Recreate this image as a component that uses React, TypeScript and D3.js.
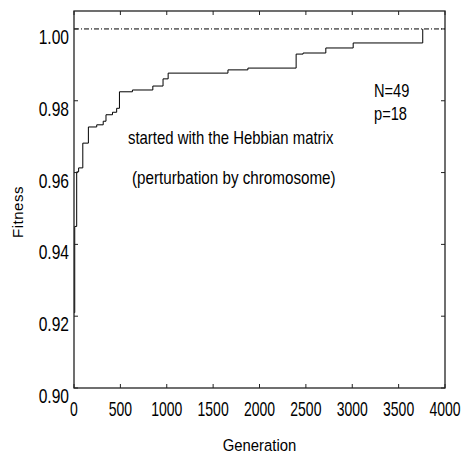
import React, { useEffect, useRef } from 'react';
import * as d3 from 'd3';

// step points (generation where the new best fitness appears)
const generations = [0, 8, 29, 50, 95, 155, 245, 315, 345, 415, 460, 490, 630, 850, 960, 1015, 1660, 1875, 2395, 2470, 2715, 3010, 3760];
const fitness = [0.921, 0.945, 0.9602, 0.9613, 0.9682, 0.9727, 0.9733, 0.9743, 0.9761, 0.9768, 0.9779, 0.9825, 0.983, 0.9841, 0.9861, 0.9877, 0.9886, 0.9891, 0.993, 0.9933, 0.9947, 0.9961, 1.0];

const xTicks = [0, 500, 1000, 1500, 2000, 2500, 3000, 3500, 4000];
const yTicks = [0.9, 0.92, 0.94, 0.96, 0.98, 1.0];
const optimum = 1.0;

const xLabel = 'Generation';
const yLabel = 'Fitness';
const note1 = 'started with the Hebbian matrix';
const note2 = '(perturbation by chromosome)';
const params = ['N=49', 'p=18'];

export default function App() {
    const ref = useRef<SVGSVGElement>(null);

    useEffect(() => {
        const svg = d3.select(ref.current);
        svg.selectAll('*').remove();

        const left = 74, right = 445, top = 11, bottom = 388;
        const font = '"Liberation Sans", Arial, sans-serif';

        const x = d3.scaleLinear().domain([0, 4000]).range([left, right]);
        const y = d3.scaleLinear().domain([0.9, 1.005]).range([bottom, top]);

        // squeeze text horizontally like the narrow font of the original
        const narrow = (sel: any, k: number) => {
            sel.each(function (this: SVGTextElement) {
                const tx = this.getAttribute('x') || '0';
                const ty = this.getAttribute('y') || '0';
                this.removeAttribute('x');
                this.removeAttribute('y');
                this.setAttribute('transform', `translate(${tx},${ty}) scale(${k},1)`);
            });
        };

        // optimum line
        svg.append('line')
            .attr('x1', left).attr('x2', right)
            .attr('y1', y(optimum)).attr('y2', y(optimum))
            .attr('stroke', '#000')
            .attr('stroke-width', 1)
            .attr('stroke-dasharray', '5,2,1,2');

        // best fitness
        const line = d3.line<number>()
            .x((d, i) => x(generations[i]))
            .y((d) => y(d))
            .curve(d3.curveStepAfter);
        svg.append('path')
            .datum(fitness)
            .attr('fill', 'none')
            .attr('stroke', '#000')
            .attr('stroke-width', 1)
            .attr('d', line);

        // box
        svg.append('rect')
            .attr('x', left).attr('y', top)
            .attr('width', right - left).attr('height', bottom - top)
            .attr('fill', 'none')
            .attr('stroke', '#222')
            .attr('stroke-width', 1.3);

        // inward ticks on all sides
        const tl = 4;
        const tickG = svg.append('g').attr('stroke', '#222').attr('stroke-width', 1);
        xTicks.forEach((t) => {
            tickG.append('line').attr('x1', x(t)).attr('x2', x(t)).attr('y1', bottom).attr('y2', bottom - tl);
            tickG.append('line').attr('x1', x(t)).attr('x2', x(t)).attr('y1', top).attr('y2', top + tl);
        });
        yTicks.forEach((t) => {
            tickG.append('line').attr('x1', left).attr('x2', left + tl).attr('y1', y(t)).attr('y2', y(t));
            tickG.append('line').attr('x1', right).attr('x2', right - tl).attr('y1', y(t)).attr('y2', y(t));
        });

        // tick labels
        const xl = svg.append('g').selectAll('text')
            .data(xTicks).enter().append('text')
            .attr('x', (d) => x(d))
            .attr('y', bottom + 28)
            .attr('text-anchor', 'middle')
            .attr('font-family', font)
            .attr('font-size', 20)
            .text((d) => String(d));
        narrow(xl, 0.7);

        const yl = svg.append('g').selectAll('text')
            .data(yTicks).enter().append('text')
            .attr('x', left - 5)
            .attr('y', (d) => y(d) + 15)
            .attr('text-anchor', 'end')
            .attr('font-family', font)
            .attr('font-size', 20)
            .text((d) => d.toFixed(2));
        narrow(yl, 0.78);

        // axis titles
        svg.append('text')
            .attr('x', (left + right) / 2)
            .attr('y', 451)
            .attr('text-anchor', 'middle')
            .attr('font-family', font)
            .attr('font-size', 16.5)
            .text(xLabel)
            .call(narrow, 0.9);

        svg.append('text')
            .attr('transform', 'translate(23,212) rotate(-90)')
            .attr('text-anchor', 'middle')
            .attr('font-family', font)
            .attr('font-size', 15)
            .attr('letter-spacing', 0.5)
            .text(yLabel);

        // annotations
        svg.append('text')
            .attr('x', 128).attr('y', 144)
            .attr('font-family', font)
            .attr('font-size', 18)
            .text(note1)
            .call(narrow, 0.828);
        svg.append('text')
            .attr('x', 132).attr('y', 184)
            .attr('font-family', font)
            .attr('font-size', 18)
            .text(note2)
            .call(narrow, 0.845);

        const pl = svg.append('g').selectAll('text')
            .data(params).enter().append('text')
            .attr('x', 374)
            .attr('y', (d, i) => 97 + i * 23)
            .attr('font-family', font)
            .attr('font-size', 19)
            .text((d) => d);
        narrow(pl, 0.77);
    }, []);

    return (
        <svg
            ref={ref}
            width={463}
            height={456}
            style={{ position: 'absolute', left: 0, top: 0, background: '#fff' }}
        />
    );
}
